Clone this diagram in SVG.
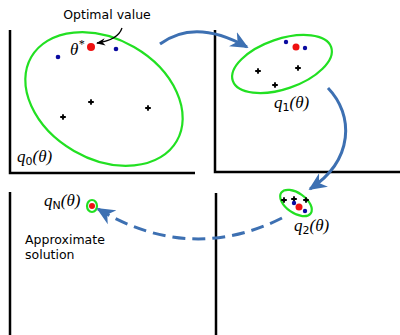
<svg xmlns="http://www.w3.org/2000/svg" width="400" height="335" viewBox="0 0 400 335">
<defs>
<style>
.axis{stroke:#000;stroke-width:2.5;fill:none}
.ell{stroke:#22e022;stroke-width:2.2;fill:none}
.red{fill:#ee1111}
.blue{fill:#0a0aa0}
.blk{stroke:#000;stroke-width:1.8}
.conn{stroke:#3d70b2;stroke-width:3;fill:none}
.math{font-family:"Liberation Serif","DejaVu Serif",serif;font-style:italic;font-size:17px;fill:#000}
.sub{font-family:"DejaVu Sans","Liberation Sans",sans-serif;font-style:normal;font-size:11px}
.txt{font-family:"DejaVu Sans","Liberation Sans",sans-serif;font-size:12.5px;fill:#000}
</style>
<marker id="ah" viewBox="0 0 10 10" refX="9" refY="5" markerWidth="6" markerHeight="6" orient="auto" markerUnits="strokeWidth">
<path d="M0,0.5 L10,5 L0,9.5 L3,5 Z" fill="#3d70b2"/>
</marker>
<marker id="ahk" viewBox="0 0 10 10" refX="9" refY="5" markerWidth="7" markerHeight="7" orient="auto" markerUnits="strokeWidth">
<path d="M0,1 L10,5 L0,9 L3,5 Z" fill="#000"/>
</marker>
<g id="bp">
<path d="M-2.8,0 H2.8 M0,-2.8 V2.8" class="blk"/>
<circle r="1.6" fill="#000"/>
</g>
</defs>

<g id="panel0">
<path class="axis" d="M10,30 V173 H195"/>
<ellipse class="ell" cx="104" cy="99" rx="84" ry="60" transform="rotate(30 104 99)"/>
<circle class="red" cx="91" cy="47" r="4"/>
<circle class="blue" cx="58" cy="57" r="2.3"/>
<circle class="blue" cx="116" cy="49" r="2.3"/>
<use href="#bp" x="63" y="117"/>
<use href="#bp" x="91" y="102"/>
<use href="#bp" x="148" y="108"/>
<text class="math" x="70" y="55">θ<tspan font-size="12" dy="-7">*</tspan></text>
<text class="math" x="17" y="162">q<tspan class="sub" dy="3">0</tspan><tspan dy="-3">(θ)</tspan></text>
</g>

<g id="label-optimal">
<text class="txt" x="107" y="19" text-anchor="middle">Optimal value</text>
<path d="M122,28 Q118,40 97,43" stroke="#000" stroke-width="1.3" fill="none" marker-end="url(#ahk)"/>
</g>

<g id="panel1">
<path class="axis" d="M215,30 V172 H400"/>
<ellipse class="ell" cx="282" cy="64" rx="52" ry="25" transform="rotate(-19 282 64)"/>
<circle class="red" cx="296" cy="47" r="3.5"/>
<circle class="blue" cx="286" cy="42" r="2.2"/>
<circle class="blue" cx="305" cy="48" r="2.2"/>
<use href="#bp" x="258" y="71"/>
<use href="#bp" x="298" y="68"/>
<use href="#bp" x="275" y="85"/>
<text class="math" x="274" y="108">q<tspan class="sub" dy="3">1</tspan><tspan dy="-3">(θ)</tspan></text>
</g>

<g id="panel2">
<path class="axis" d="M216,193 V335"/>
<ellipse class="ell" cx="296" cy="203" rx="18" ry="10" transform="rotate(35 296 203)"/>
<use href="#bp" x="284" y="200"/>
<use href="#bp" x="294" y="199"/>
<use href="#bp" x="306" y="200"/>
<circle class="blue" cx="294" cy="203" r="2.2"/>
<circle class="blue" cx="305" cy="211" r="2.2"/>
<circle class="red" cx="299" cy="207" r="3.5"/>
<text class="math" x="294" y="231">q<tspan class="sub" dy="3">2</tspan><tspan dy="-3">(θ)</tspan></text>
</g>

<g id="panelN">
<path class="axis" d="M10,192 V335"/>
<ellipse class="ell" cx="92" cy="206" rx="5" ry="6" stroke-width="2"/>
<circle class="red" cx="92" cy="206" r="3"/>
<text class="math" x="44" y="206">q<tspan class="sub" dy="3">N</tspan><tspan dy="-3">(θ)</tspan></text>
<text class="txt" x="25" y="244">Approximate</text>
<text class="txt" x="25" y="259">solution</text>
</g>

<g id="connectors">
<path class="conn" d="M160,44 Q195,18 247,47" marker-end="url(#ah)"/>
<path class="conn" d="M328,88 C354,115 354,160 310,189" marker-end="url(#ah)"/>
<path class="conn" d="M282,218 Q190,264 98,209" stroke-dasharray="13,7" marker-end="url(#ah)"/>
</g>
</svg>
